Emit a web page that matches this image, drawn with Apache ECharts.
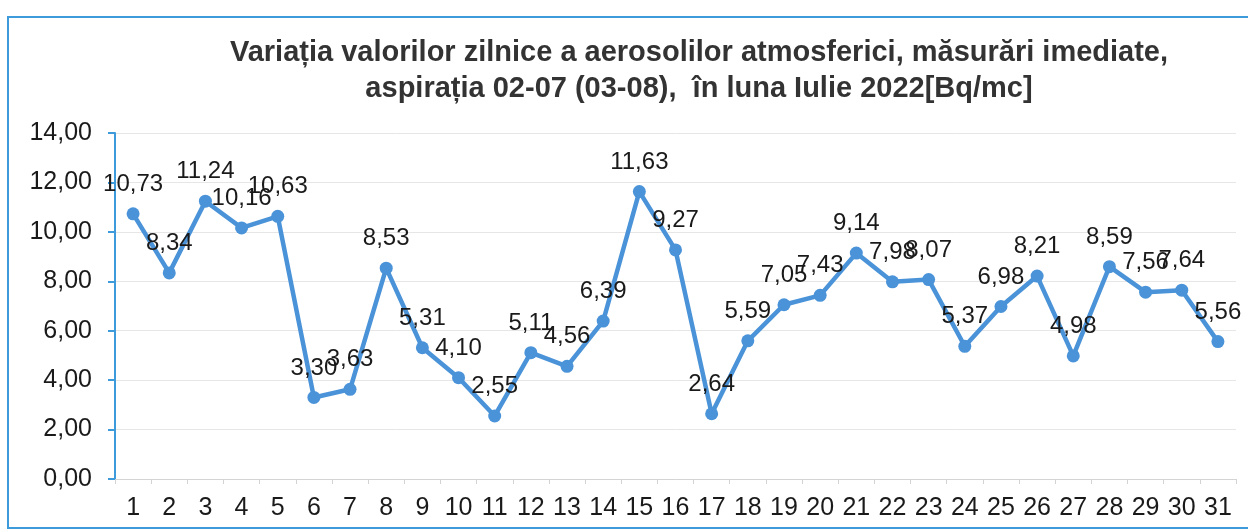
<!DOCTYPE html>
<html>
<head>
    <meta charset="UTF-8">
    <title>Aerosoli iulie 2022</title>
    <script type="text/javascript" src="https://cdn.jsdelivr.net/npm/echarts@6/dist/echarts.min.js"></script>
    <style>
        html, body { margin: 0; padding: 0; background: #fff; }
        #chart { width: 1248px; height: 531px; }
    </style>
</head>
<body>
<div id="chart"></div>
<script type="text/javascript">
    // zilele lunii
    var days = [];
    for (var d = 1; d <= 31; d++) days.push(String(d));
    // valori zilnice [Bq/mc]
    var values = [10.73, 8.34, 11.24, 10.16, 10.63, 3.30, 3.63, 8.53, 5.31, 4.10,
                  2.55, 5.11, 4.56, 6.39, 11.63, 9.27, 2.64, 5.59, 7.05, 7.43,
                  9.14, 7.98, 8.07, 5.37, 6.98, 8.21, 4.98, 8.59, 7.56, 7.64, 5.56];
    var titleLines = ['Variația valorilor zilnice a aerosolilor atmosferici, măsurări imediate,',
                      'aspirația 02-07 (03-08),  în luna Iulie 2022[Bq/mc]'];

    function fmt(v) {
        return v.toFixed(2).replace('.', ',');
    }

    var myChart = echarts.init(document.getElementById('chart'));
    var option = {
        backgroundColor: '#ffffff',
        animation: false,
        textStyle: { fontFamily: '"Liberation Sans", Arial, sans-serif' },
        title: {
            text: titleLines.join('\n'),
            left: 694,
            textAlign: 'center',
            top: 30,
            textStyle: {
                fontSize: 29,
                fontWeight: 'bold',
                color: '#333333',
                lineHeight: 36,
                fontFamily: '"Liberation Sans", Arial, sans-serif'
            }
        },
        graphic: [{
            type: 'rect',
            shape: { x: 8, y: 17, width: 1260, height: 511 },
            style: { fill: 'none', stroke: '#3d9bdc', lineWidth: 2 },
            silent: true
        }],
        grid: { left: 115, right: 12, top: 133, bottom: 52 },
        xAxis: {
            type: 'category',
            data: days,
            boundaryGap: true,
            axisLine: { lineStyle: { color: '#d4d4d4', width: 1 } },
            axisTick: { show: true, length: 5, lineStyle: { color: '#d4d4d4' } },
            axisLabel: { fontSize: 25, color: '#1a1a1a', margin: 17, interval: 0 }
        },
        yAxis: {
            type: 'value',
            min: 0,
            max: 14,
            interval: 2,
            axisLine: { show: true, lineStyle: { color: '#3d9bdc', width: 2 } },
            axisTick: { show: true, length: 7, lineStyle: { color: '#3d9bdc', width: 2 } },
            axisLabel: { fontSize: 25, color: '#1a1a1a', margin: 23, formatter: fmt },
            splitLine: { lineStyle: { color: '#e6e6e6', width: 1 } }
        },
        series: [{
            type: 'line',
            data: values,
            symbol: 'circle',
            symbolSize: 13,
            lineStyle: { color: '#4a93d8', width: 4.5 },
            itemStyle: { color: '#4a93d8' },
            label: {
                show: true,
                position: 'top',
                distance: 11,
                fontSize: 24,
                color: '#1a1a1a',
                formatter: function (p) { return fmt(p.value); }
            },
            labelLayout: { hideOverlap: false }
        }]
    };
    myChart.setOption(option);
</script>
</body>
</html>
